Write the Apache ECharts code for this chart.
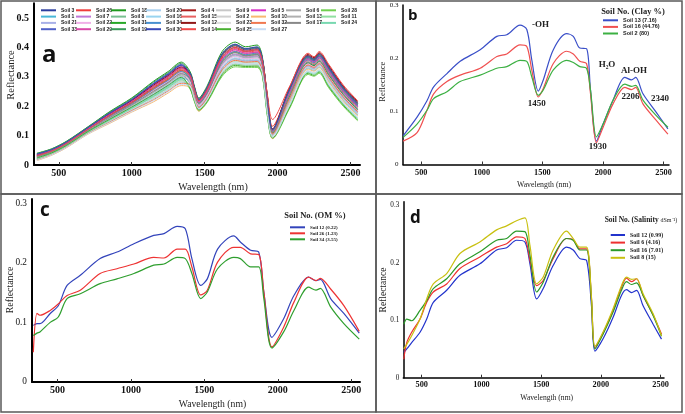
<!DOCTYPE html>
<html><head><meta charset="utf-8">
<script src="https://cdn.jsdelivr.net/npm/echarts@6/dist/echarts.min.js"></script>
<style>html,body{margin:0;padding:0;background:#fff}#c{width:685px;height:414px}</style>
</head><body><div id="c"></div>
<script>
// ---------- Panel a: 34 soil spectra ----------
const W_A = [350,450,550,700,850,1000,1150,1250,1340,1400,1430,1460,1520,1620,1710,1780,1860,1895,1930,1965,2080,2210,2250,2285,2350,2450,2550];
const S3  = [.036,.052,.077,.126,.176,.221,.275,.307,.338,.305,.257,.219,.260,.368,.400,.387,.392,.356,.221,.116,.246,.362,.352,.368,.323,.254,.201];
const S26 = [.033,.048,.073,.123,.170,.214,.264,.296,.326,.302,.254,.217,.257,.364,.396,.384,.388,.353,.229,.132,.254,.369,.358,.375,.331,.261,.208];
const S18 = [.040,.055,.080,.130,.182,.228,.285,.318,.350,.318,.268,.228,.272,.386,.418,.402,.408,.370,.225,.118,.250,.366,.355,.371,.327,.258,.204];
const S20 = [.024,.041,.066,.114,.156,.197,.240,.271,.298,.280,.234,.200,.236,.333,.365,.358,.360,.328,.199,.106,.224,.340,.332,.345,.299,.232,.181];
const S4  = [.034,.050,.075,.124,.172,.216,.268,.300,.330,.309,.260,.221,.263,.373,.405,.391,.396,.360,.233,.122,.258,.373,.361,.379,.335,.265,.211];
const S9  = [.025,.042,.067,.115,.158,.199,.243,.274,.302,.283,.237,.203,.239,.338,.370,.361,.364,.332,.197,.105,.222,.339,.330,.344,.297,.230,.179];
const S5  = [.035,.051,.076,.125,.174,.218,.271,.303,.334,.299,.251,.214,.254,.360,.392,.380,.384,.349,.218,.115,.243,.358,.348,.364,.319,.250,.198];
const S6  = [.029,.045,.070,.119,.164,.206,.254,.285,.314,.290,.243,.207,.245,.346,.378,.369,.372,.339,.203,.108,.228,.344,.335,.349,.303,.236,.184];
const S28 = [.020,.037,.062,.110,.150,.190,.229,.260,.286,.258,.215,.184,.215,.302,.334,.332,.332,.304,.165,.090,.190,.308,.302,.312,.263,.200,.150];
const S1  = [.023,.040,.065,.113,.154,.194,.236,.267,.294,.287,.240,.205,.242,.342,.374,.365,.368,.335,.210,.111,.235,.351,.342,.356,.311,.243,.191];
const S7  = [.028,.044,.069,.118,.162,.204,.250,.282,.310,.289,.242,.206,.244,.345,.377,.367,.371,.338,.206,.109,.231,.348,.338,.353,.307,.240,.187];
const S8  = [.026,.043,.068,.116,.160,.202,.247,.278,.306,.277,.232,.198,.233,.329,.361,.354,.356,.325,.188,.101,.213,.330,.322,.334,.287,.222,.170];
const S16 = [.019,.036,.061,.109,.148,.187,.226,.256,.282,.268,.223,.191,.224,.316,.348,.343,.344,.314,.187,.102,.212,.329,.321,.333,.286,.221,.171];
const S15 = [.030,.046,.071,.120,.166,.209,.257,.289,.318,.296,.248,.212,.251,.355,.387,.376,.380,.346,.214,.113,.239,.355,.345,.360,.315,.247,.194];
const S2  = [.021,.039,.064,.111,.152,.192,.233,.263,.290,.274,.229,.196,.230,.324,.356,.350,.352,.321,.191,.102,.216,.333,.325,.338,.291,.225,.174];
const S10 = [.015,.033,.058,.105,.142,.180,.215,.245,.270,.264,.220,.183,.221,.311,.343,.339,.340,.311,.184,.090,.209,.326,.319,.331,.283,.218,.167];
const S13 = [.027,.043,.068,.117,.161,.203,.248,.279,.307,.287,.240,.205,.242,.342,.374,.365,.368,.335,.195,.104,.220,.337,.328,.342,.295,.229,.177];
const S11 = [.022,.040,.065,.112,.153,.193,.235,.266,.293,.271,.226,.194,.227,.320,.352,.347,.348,.318,.176,.095,.201,.319,.312,.323,.275,.211,.160];
const S21 = [.025,.041,.066,.115,.157,.198,.242,.273,.301,.277,.232,.198,.233,.329,.361,.354,.356,.325,.194,.104,.219,.336,.327,.341,.294,.228,.176];
const S22 = [.029,.046,.070,.118,.163,.207,.253,.286,.313,.283,.237,.203,.239,.338,.370,.361,.364,.332,.202,.107,.227,.343,.334,.348,.302,.235,.183];
const S31 = [.031,.047,.072,.121,.168,.211,.261,.292,.322,.293,.246,.210,.248,.351,.383,.372,.376,.342,.206,.109,.231,.348,.338,.353,.307,.240,.187];
const S34 = [.030,.047,.071,.121,.166,.208,.258,.288,.318,.295,.249,.212,.250,.356,.386,.375,.381,.345,.218,.115,.243,.358,.348,.364,.319,.250,.198];
const S12 = [.034,.051,.076,.126,.173,.219,.272,.304,.333,.312,.262,.223,.266,.377,.409,.395,.400,.363,.236,.123,.261,.376,.365,.382,.339,.268,.215];
const S23 = [.020,.037,.062,.110,.150,.190,.229,.260,.286,.270,.225,.193,.226,.319,.351,.346,.347,.317,.180,.097,.205,.322,.315,.327,.279,.214,.164];
const S32 = [.018,.035,.060,.108,.146,.185,.222,.252,.278,.274,.229,.196,.230,.324,.356,.350,.352,.321,.199,.106,.224,.340,.332,.345,.299,.232,.181];
const S17 = [.027,.044,.069,.117,.162,.205,.251,.281,.311,.293,.246,.210,.248,.351,.383,.372,.376,.342,.209,.111,.234,.350,.341,.355,.310,.242,.190];
const S24 = [.021,.039,.064,.111,.152,.192,.233,.263,.290,.264,.220,.189,.221,.311,.343,.339,.340,.311,.173,.094,.198,.315,.309,.319,.271,.207,.157];
const S33 = [.038,.053,.078,.128,.178,.223,.278,.311,.342,.310,.261,.222,.265,.375,.407,.393,.398,.362,.225,.118,.250,.366,.355,.371,.327,.258,.204];
const S29 = [.034,.050,.075,.124,.172,.216,.268,.300,.330,.299,.251,.214,.254,.360,.392,.380,.384,.349,.220,.117,.245,.361,.351,.367,.322,.253,.200];
const S19 = [.039,.054,.079,.129,.180,.226,.282,.314,.346,.312,.262,.223,.266,.377,.409,.395,.400,.363,.229,.120,.254,.369,.358,.375,.331,.261,.208];
const S30 = [.037,.052,.077,.127,.177,.222,.277,.309,.340,.313,.264,.224,.267,.379,.411,.396,.402,.364,.231,.121,.256,.371,.360,.377,.333,.263,.210];
const S14 = [.031,.047,.072,.121,.168,.211,.261,.292,.322,.305,.257,.219,.260,.368,.400,.387,.392,.356,.240,.155,.265,.380,.368,.386,.343,.272,.218];
const S25 = [.024,.041,.066,.114,.156,.197,.240,.271,.298,.261,.218,.187,.218,.307,.339,.335,.336,.307,.169,.092,.194,.312,.305,.316,.267,.204,.153];
const S27 = [.016,.034,.059,.106,.144,.182,.219,.249,.274,.268,.223,.191,.224,.316,.348,.343,.344,.314,.176,.095,.201,.319,.312,.323,.275,.211,.160];
const A_SERIES = [
  ['Soil 3',S3],['Soil 26',S26],['Soil 18',S18],['Soil 20',S20],['Soil 4',S4],['Soil 9',S9],['Soil 5',S5],['Soil 6',S6],['Soil 28',S28],
  ['Soil 1',S1],['Soil 7',S7],['Soil 8',S8],['Soil 16',S16],['Soil 15',S15],['Soil 2',S2],['Soil 10',S10],['Soil 13',S13],['Soil 11',S11],
  ['Soil 21',S21],['Soil 22',S22],['Soil 31',S31],['Soil 34',S34],['Soil 12',S12],['Soil 23',S23],['Soil 32',S32],['Soil 17',S17],['Soil 24',S24],
  ['Soil 33',S33],['Soil 29',S29],['Soil 19',S19],['Soil 30',S30],['Soil 14',S14],['Soil 25',S25],['Soil 27',S27]
];
const A_LEGEND_COLS = [
  ['Soil 3','Soil 1','Soil 21','Soil 33'],['Soil 26','Soil 7','Soil 22','Soil 29'],['Soil 18','Soil 8','Soil 31','Soil 19'],
  ['Soil 20','Soil 16','Soil 34','Soil 30'],['Soil 4','Soil 15','Soil 12','Soil 14'],['Soil 9','Soil 2','Soil 23','Soil 25'],
  ['Soil 5','Soil 10','Soil 32','Soil 27'],['Soil 6','Soil 13','Soil 17'],['Soil 28','Soil 11','Soil 24']
];

// ---------- Panel b: clay ----------
const W_B = [350,465,547,602,712,821,986,1124,1206,1315,1371,1412,1466,1507,1590,1700,1755,1809,1864,1897,1946,2001,2083,2180,2235,2270,2330,2440,2536];
const B_SOIL13 = [.054,.089,.120,.146,.171,.194,.216,.241,.244,.262,.254,.197,.138,.159,.216,.246,.241,.219,.218,.140,.044,.076,.121,.164,.159,.164,.133,.098,.067];
const B_SOIL16 = [.044,.060,.102,.133,.156,.168,.181,.203,.208,.225,.222,.178,.127,.143,.190,.213,.208,.194,.190,.133,.041,.070,.114,.145,.141,.145,.114,.083,.057];
const B_SOIL2  = [.051,.076,.102,.124,.137,.156,.168,.181,.184,.196,.194,.165,.130,.140,.178,.196,.192,.184,.181,.140,.052,.076,.121,.151,.147,.149,.121,.092,.070];
const B_NAMES = ['Soil 13 (7.16)','Soil 16 (44.76)','Soil 2 (80)'];

// ---------- Panel c: organic matter ----------
const W_C = [335,360,380,450,505,565,655,790,905,1020,1155,1225,1315,1370,1415,1475,1520,1590,1700,1745,1815,1870,1905,1960,2040,2110,2210,2260,2290,2360,2450,2555];
const C_SOIL12 = [.095,.098,.098,.115,.128,.162,.179,.207,.218,.232,.246,.249,.261,.257,.207,.162,.173,.223,.245,.235,.221,.218,.151,.075,.106,.145,.176,.170,.172,.140,.115,.082];
const C_SOIL26 = [.050,.115,.112,.120,.131,.145,.154,.182,.190,.198,.209,.208,.223,.223,.193,.146,.154,.201,.226,.226,.215,.214,.151,.059,.092,.134,.176,.170,.174,.156,.128,.085];
const C_SOIL34 = [.078,.082,.084,.100,.109,.140,.148,.165,.173,.182,.196,.198,.209,.207,.182,.140,.151,.190,.209,.207,.193,.193,.140,.057,.084,.120,.159,.154,.157,.126,.098,.072];
const C_NAMES = ['Soil 12 (0.22)','Soil 26 (1.23)','Soil 34 (3.55)'];

// ---------- Panel d: salinity ----------
const W_D = [350,375,416,486,542,597,709,820,987,1127,1211,1294,1364,1406,1462,1517,1600,1712,1768,1824,1880,1921,1950,2019,2102,2172,2214,2256,2298,2353,2437,2507];
const D_SOIL12 = [.044,.050,.061,.079,.102,.131,.152,.178,.198,.222,.226,.239,.236,.198,.137,.155,.195,.227,.222,.207,.204,.125,.046,.068,.105,.143,.153,.148,.152,.125,.093,.067];
const D_SOIL6  = [.032,.061,.079,.102,.131,.149,.163,.190,.210,.227,.233,.245,.242,.204,.160,.169,.207,.242,.240,.224,.224,.137,.052,.078,.117,.157,.173,.167,.172,.143,.109,.076];
const D_SOIL16 = [.093,.102,.099,.117,.134,.155,.172,.198,.219,.239,.242,.255,.254,.213,.149,.166,.210,.242,.239,.222,.222,.135,.050,.076,.114,.152,.167,.162,.165,.143,.108,.072];
const D_SOIL8  = [.050,.058,.073,.102,.137,.163,.181,.216,.236,.257,.264,.273,.278,.230,.163,.175,.222,.255,.242,.227,.227,.140,.055,.080,.120,.160,.175,.171,.172,.146,.111,.073];
const D_NAMES = ['Soil 12 (0.99)','Soil 6 (4.16)','Soil 16 (7.01)','Soil 8 (15)'];

const X_TICKS = [500,1000,1500,2000,2500];
const Y_TICKS_A = [0,0.1,0.2,0.3,0.4,0.5];
const Y_TICKS = [0,0.1,0.2,0.3];

// ---------- styling ----------
const SERIF = '"Liberation Serif","Times New Roman",serif';
const SANS = '"Liberation Sans",Arial,sans-serif';
const A_COLORS = {
 'Soil 3':'#2c3e9e','Soil 26':'#f03c3c','Soil 18':'#1e9a1e','Soil 20':'#a8d0f0','Soil 4':'#a81c1c','Soil 9':'#c8c8c8','Soil 5':'#d830c8','Soil 6':'#a8a8a8','Soil 28':'#70d050',
 'Soil 1':'#48b8d8','Soil 7':'#c078d8','Soil 8':'#78c090','Soil 16':'#98d4f0','Soil 15':'#e86060','Soil 2':'#d0d0d0','Soil 10':'#f8b870','Soil 13':'#b0b0b0','Soil 11':'#90e0a0',
 'Soil 21':'#a8b0e8','Soil 22':'#f0b0e8','Soil 31':'#28a828','Soil 34':'#4890d0','Soil 12':'#901818','Soil 23':'#dcdcdc','Soil 32':'#f07850','Soil 17':'#888888','Soil 24':'#78d8b0',
 'Soil 33':'#5060c8','Soil 29':'#d848a8','Soil 19':'#389858','Soil 30':'#3848b8','Soil 14':'#f04848','Soil 25':'#48b030','Soil 27':'#c8dcf4'
};
const B_COLORS = ['#3a4fc8','#f05050','#3cb043'];
const C_COLORS = ['#3344bb','#ee3333','#2f9f2f'];
const D_COLORS = ['#2233cc','#ee3030','#2a9a2a','#c8c010'];

function pairs(W, V){ return W.map((w,i)=>[w, V[i]]); }
function lineSeries(name, W, V, gi, color, width){
  return {type:'line', name, xAxisIndex:gi, yAxisIndex:gi, data:pairs(W,V), showSymbol:false, symbol:'none',
    smooth:0.3, lineStyle:{width, color}, itemStyle:{color}, emphasis:{disabled:true}, animation:false};
}
function yfmt(v){ return v===0 ? '0' : v.toFixed(1); }
function xfmt(v){ return String(Math.round(v)); }
function xAxis(gi, min, max, fs, margin, lw){
  return {type:'value', gridIndex:gi, min, max,
    axisLine:{show:true, onZero:false, lineStyle:{color:'#000', width:lw}},
    axisTick:{show:true, inside:true, length:3, customValues:X_TICKS, lineStyle:{color:'#333', width:1}},
    axisLabel:{customValues:X_TICKS, formatter:xfmt, fontFamily:SERIF, fontWeight:'bold', fontSize:fs, color:'#111', margin},
    splitLine:{show:false}};
}
function yAxis(gi, max, ticks, fs, weight, margin, lw){
  return {type:'value', gridIndex:gi, min:0, max,
    axisLine:{show:true, onZero:false, lineStyle:{color:'#000', width:lw}},
    axisTick:{show:false},
    axisLabel:{customValues:ticks, formatter:yfmt, fontFamily:SERIF, fontWeight:weight, fontSize:fs, color:'#111', margin},
    splitLine:{show:false}};
}

const series = [];
A_SERIES.forEach(([n,v])=>series.push(lineSeries(n, W_A, v, 0, A_COLORS[n], 1)));
[B_SOIL13,B_SOIL16,B_SOIL2].forEach((v,i)=>series.push(lineSeries(B_NAMES[i], W_B, v, 1, B_COLORS[i], 1.2)));
[C_SOIL12,C_SOIL26,C_SOIL34].forEach((v,i)=>series.push(lineSeries(C_NAMES[i], W_C, v, 2, C_COLORS[i], 1.2)));
[D_SOIL12,D_SOIL6,D_SOIL16,D_SOIL8].forEach((v,i)=>series.push(lineSeries(D_NAMES[i], W_D, v, 3, D_COLORS[i], 1.2)));

const legends = A_LEGEND_COLS.map((col,k)=>({
  data:col, left:41+35*k, top:7.3, orient:'vertical', icon:'rect', itemWidth:15, itemHeight:2, itemGap:0.3, padding:0,
  selectedMode:false, textStyle:{fontSize:5, fontWeight:'bold', fontFamily:SANS, color:'#222', lineHeight:6}
}));
legends.push({data:B_NAMES, left:603, top:17, orient:'vertical', icon:'rect', itemWidth:15, itemHeight:2, itemGap:0, padding:0,
  selectedMode:false, textStyle:{fontSize:5.5, fontWeight:'bold', fontFamily:SANS, color:'#222', lineHeight:6.6}});
legends.push({data:C_NAMES, left:290, top:224.3, orient:'vertical', icon:'rect', itemWidth:15, itemHeight:2, itemGap:0, padding:0,
  selectedMode:false, textStyle:{fontSize:5, fontWeight:'bold', fontFamily:SERIF, color:'#222', lineHeight:6}});
legends.push({data:D_NAMES, left:610.7, top:231.2, orient:'vertical', icon:'rect', itemWidth:14.3, itemHeight:2, itemGap:0, padding:0,
  selectedMode:false, textStyle:{fontSize:6, fontWeight:'bold', fontFamily:SERIF, color:'#222', lineHeight:7.6}});

function txt(x, y, text, size, opts){
  opts = opts || {};
  return {type:'text', x, y, rotation:opts.rot||0, z:100, silent:true,
    style:{text, fontSize:size, fontFamily:opts.family||SERIF, fontWeight:opts.weight||'normal', fill:opts.color||'#222',
      textAlign:opts.align||'center', textVerticalAlign:'middle', rich:opts.rich}};
}
function box(x,y,w,h){ return {type:'rect', shape:{x,y,width:w,height:h}, style:{fill:'none', stroke:'#5a5a5a', lineWidth:1.5}, silent:true, z:90}; }

const graphic = [
  box(1,1,375,193), box(376,1,306,193), box(1,194,375,218), box(376,194,306,218),
  txt(42,55.3,'a',24,{family:'"Open Sans",sans-serif', weight:'bold', align:'left', color:'#111'}),
  txt(408,16.2,'b',15,{family:'"Open Sans",sans-serif', weight:'bold', align:'left', color:'#111'}),
  txt(40,210.6,'c',19,{family:'"Open Sans",sans-serif', weight:'bold', align:'left', color:'#111'}),
  txt(410,217.9,'d',17,{family:'"Open Sans",sans-serif', weight:'bold', align:'left', color:'#111'}),
  txt(11,75,'Reflectance',10.5,{rot:Math.PI/2}),
  txt(383,81.7,'Reflectance',8.5,{rot:Math.PI/2}),
  txt(10,290,'Reflectance',9.9,{rot:Math.PI/2}),
  txt(383.3,290,'Reflectance',9.5,{rot:Math.PI/2}),
  txt(213,187,'Wavelength (nm)',10),
  txt(544,185,'Wavelength (nm)',7.8),
  txt(212.5,404.3,'Wavelength (nm)',9.7),
  txt(546.7,398,'Wavelength (nm)',7.6),
  txt(633,12,'Soil No. (Clay %)',8.5,{weight:'bold'}),
  txt(315,216,'Soil No. (OM %)',8.5,{weight:'bold'}),
  txt(641,220,'{b|Soil No. (Salinity }{s|dSm⁻¹)}',7.5,{rich:{b:{fontSize:7.5,fontWeight:'bold',fontFamily:SERIF,fill:'#222'}, s:{fontSize:6,fontFamily:SERIF,fill:'#222'}}}),
  txt(540.5,25,'-OH',9,{weight:'bold'}),
  txt(536.7,103.3,'1450',9,{weight:'bold'}),
  txt(607,65,'H₂O',9,{weight:'bold'}),
  txt(634,70.7,'Al-OH',9,{weight:'bold'}),
  txt(630.5,96.7,'2206',9,{weight:'bold'}),
  txt(660,98.3,'2340',9,{weight:'bold'}),
  txt(597.7,146.7,'1930',9,{weight:'bold'})
];

const option = {
  animation:false,
  backgroundColor:'#fff',
  grid:[
    {left:34, top:3.3, width:326, height:161.7},
    {left:403, top:5, width:266, height:159.5},
    {left:32, top:199, width:328, height:183},
    {left:403.3, top:201.7, width:260.7, height:176}
  ],
  xAxis:[
    xAxis(0, 330, 2565, 10, 3, 2),
    xAxis(1, 349, 2545, 8.3, 4.5, 1.5),
    xAxis(2, 326, 2560, 10, 3, 2),
    xAxis(3, 346, 2528, 8.3, 3, 1.5)
  ],
  yAxis:[
    yAxis(0, 0.55, Y_TICKS_A, 10, 'bold', 5, 2),
    yAxis(1, 0.3, Y_TICKS, 7, 'normal', 4.5, 1.5),
    yAxis(2, 0.307, Y_TICKS, 9.3, 'normal', 5, 2),
    yAxis(3, 0.306, Y_TICKS, 7.2, 'normal', 4, 1.5)
  ],
  legend:legends,
  graphic,
  series
};
const chart = echarts.init(document.getElementById('c'));
chart.setOption(option);
</script></body></html>
